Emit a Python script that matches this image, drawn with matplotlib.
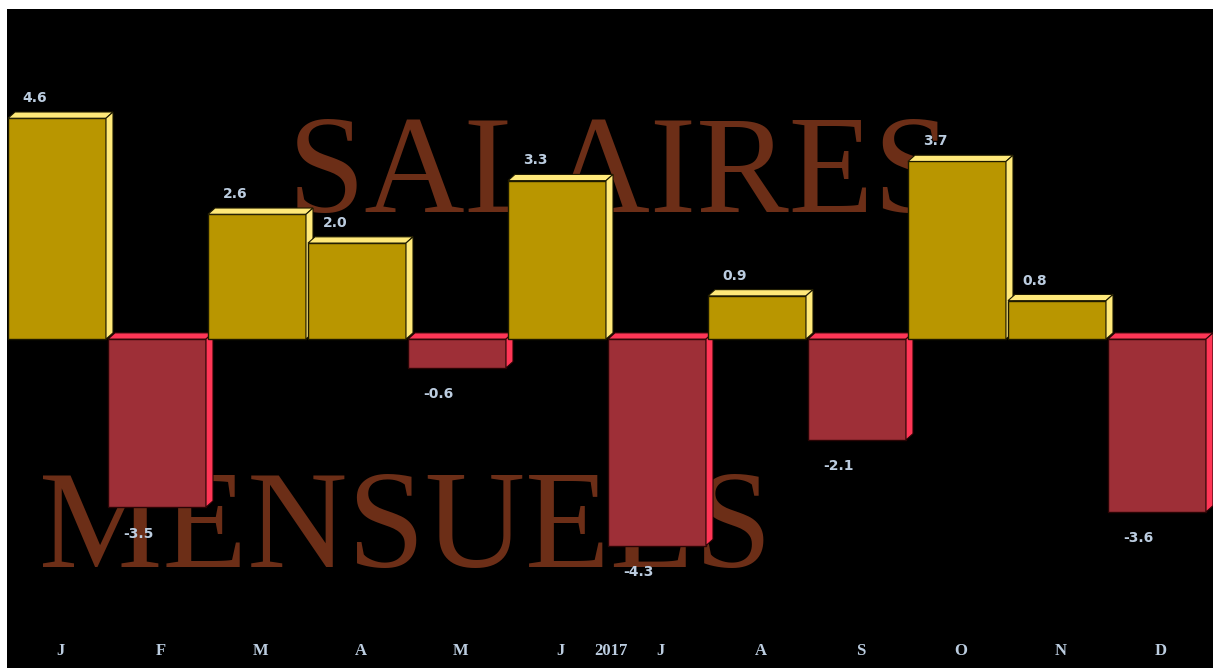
import matplotlib.pyplot as plt
from matplotlib.patches import Polygon

# data
months = ['J', 'F', 'M', 'A', 'M', 'J', 'J', 'A', 'S', 'O', 'N', 'D']
values = [4.6, -3.5, 2.6, 2.0, -0.6, 3.3, -4.3, 0.9, -2.1, 3.7, 0.8, -3.6]
year_label = '2017'
title_top = 'SALAIRES'
title_bottom = 'MENSUELS'

# colours
pos_front, pos_top, pos_edge = '#b99600', '#ffe97a', '#1e1a00'
neg_front, neg_top, neg_edge = '#9e2f37', '#ff3656', '#2a0505'
title_color = '#6c2e17'
label_color = '#bccde0'

fig = plt.figure(figsize=(12.13, 6.68), dpi=100, facecolor='white')
ax = fig.add_axes([7 / 1213, 0, 1206 / 1213, 659 / 668])
ax.set_facecolor('black')
ax.set_xlim(-0.01, 12.05)
ax.set_ylim(-6.85, 6.875)
ax.set_xticks([])
ax.set_yticks([])
for s in ax.spines.values():
    s.set_visible(False)

# big background words
ax.text(2.8, 2.64, title_top, family='Liberation Serif', fontsize=100,
        color=title_color, ha='left', va='baseline', zorder=1)
ax.text(0.31, -4.74, title_bottom, family='Liberation Serif', fontsize=100,
        color=title_color, ha='left', va='baseline', zorder=1)

# pseudo 3d bars
width = 0.98
dx, dy = 0.07, 0.13
for i, v in enumerate(values):
    if v >= 0:
        front, top, edge = pos_front, pos_top, pos_edge
    else:
        front, top, edge = neg_front, neg_top, neg_edge
    z = 3 + i * 0.1
    x0, x1 = i, i + width
    y_hi, y_lo = max(v, 0), min(v, 0)
    ax.bar(i, v, width=width, align='edge', color=front, edgecolor=edge,
           linewidth=1, zorder=z)
    top_face = [(x0, y_hi), (x0 + dx, y_hi + dy), (x1 + dx, y_hi + dy), (x1, y_hi)]
    side_face = [(x1, y_hi), (x1 + dx, y_hi + dy), (x1 + dx, y_lo + dy), (x1, y_lo)]
    ax.add_patch(Polygon(top_face, closed=True, facecolor=top, edgecolor=edge,
                         linewidth=0.8, zorder=z))
    ax.add_patch(Polygon(side_face, closed=True, facecolor=top, edgecolor=edge,
                         linewidth=0.8, zorder=z))

    # value labels
    if v >= 0:
        ax.text(i + 0.27, v + 0.42, f'{v:.1f}', ha='center', va='center',
                fontsize=10, fontweight='bold', color=label_color, zorder=10)
    else:
        ax.text(i + 0.30, v - 0.55, f'{v:.1f}', ha='center', va='center',
                fontsize=10, fontweight='bold', color=label_color, zorder=10)

# month labels
for i, m in enumerate(months):
    ax.text(i + 0.525, -6.5, m, family='Liberation Serif', fontweight='bold',
            fontsize=12, color=label_color, ha='center', va='center')
ax.text(6.03, -6.5, year_label, family='Liberation Serif', fontweight='bold',
        fontsize=12, color=label_color, ha='center', va='center')

fig.savefig('out.png', dpi=100, facecolor='white')
